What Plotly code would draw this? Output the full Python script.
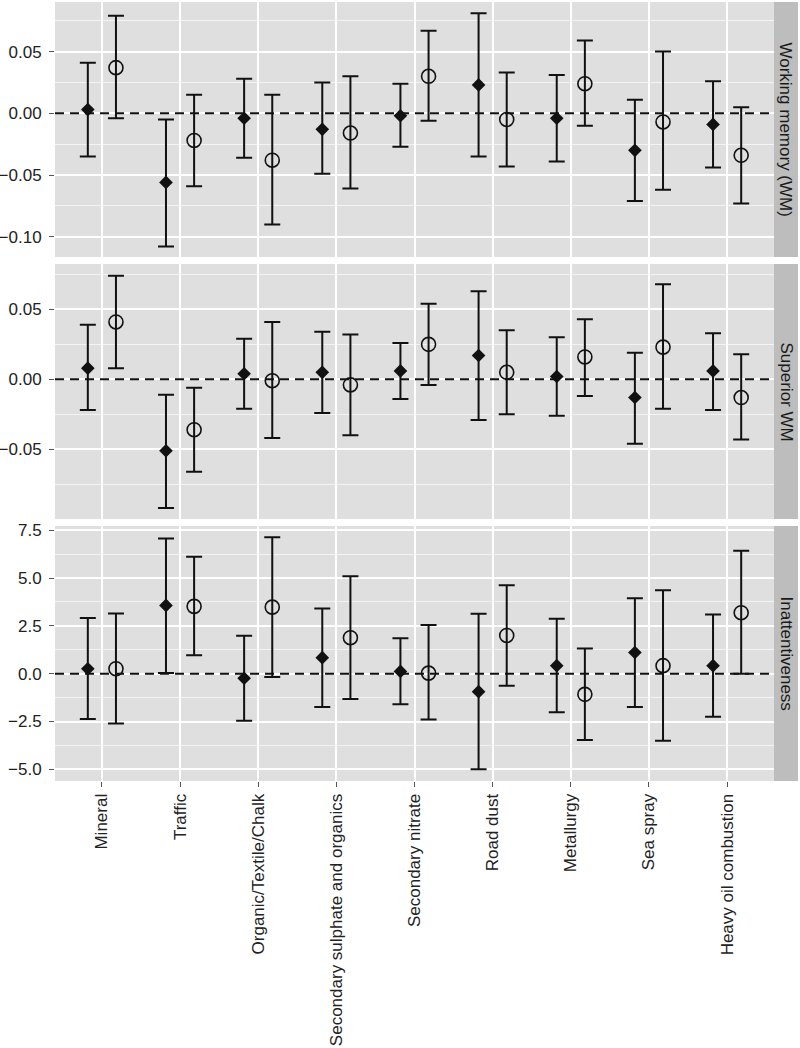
import numpy as np
import plotly.graph_objects as go
from plotly.subplots import make_subplots

categories = ["Mineral", "Traffic", "Organic/Textile/Chalk", "Secondary sulphate and organics",
              "Secondary nitrate", "Road dust", "Metallurgy", "Sea spray", "Heavy oil combustion"]

panel_titles = ["Working memory (WM)", "Superior WM", "Inattentiveness"]

# Working memory (WM)
wm_a_est = [0.003, -0.056, -0.004, -0.013, -0.002, 0.023, -0.004, -0.030, -0.009]
wm_a_lo = [-0.035, -0.108, -0.036, -0.049, -0.027, -0.035, -0.039, -0.071, -0.044]
wm_a_hi = [0.041, -0.005, 0.028, 0.025, 0.024, 0.081, 0.031, 0.011, 0.026]
wm_b_est = [0.037, -0.022, -0.038, -0.016, 0.030, -0.005, 0.024, -0.007, -0.034]
wm_b_lo = [-0.004, -0.059, -0.090, -0.061, -0.006, -0.043, -0.010, -0.062, -0.073]
wm_b_hi = [0.079, 0.015, 0.015, 0.030, 0.067, 0.033, 0.059, 0.050, 0.005]

# Superior WM
sw_a_est = [0.008, -0.051, 0.004, 0.005, 0.006, 0.017, 0.002, -0.013, 0.006]
sw_a_lo = [-0.022, -0.092, -0.021, -0.024, -0.014, -0.029, -0.026, -0.046, -0.022]
sw_a_hi = [0.039, -0.011, 0.029, 0.034, 0.026, 0.063, 0.030, 0.019, 0.033]
sw_b_est = [0.041, -0.036, -0.001, -0.004, 0.025, 0.005, 0.016, 0.023, -0.013]
sw_b_lo = [0.008, -0.066, -0.042, -0.040, -0.004, -0.025, -0.012, -0.021, -0.043]
sw_b_hi = [0.074, -0.006, 0.041, 0.032, 0.054, 0.035, 0.043, 0.068, 0.018]

# Inattentiveness
in_a_est = [0.26, 3.57, -0.24, 0.84, 0.12, -0.94, 0.42, 1.11, 0.42]
in_a_lo = [-2.37, 0.03, -2.46, -1.74, -1.60, -5.00, -2.02, -1.74, -2.25]
in_a_hi = [2.91, 7.07, 1.99, 3.41, 1.85, 3.14, 2.87, 3.95, 3.10]
in_b_est = [0.26, 3.52, 3.48, 1.88, 0.03, 2.00, -1.08, 0.42, 3.19]
in_b_lo = [-2.60, 0.96, -0.17, -1.32, -2.39, -0.63, -3.47, -3.50, 0.00]
in_b_hi = [3.15, 6.11, 7.13, 5.10, 2.54, 4.63, 1.32, 4.36, 6.43]

y_ranges = [[-0.1164, 0.0902], [-0.0998, 0.0824], [-5.61, 7.72]]
y_dticks = [0.05, 0.05, 2.5]
y_formats = [".2f", ".2f", ".1f"]

panels = [
    (wm_a_est, wm_a_lo, wm_a_hi, wm_b_est, wm_b_lo, wm_b_hi),
    (sw_a_est, sw_a_lo, sw_a_hi, sw_b_est, sw_b_lo, sw_b_hi),
    (in_a_est, in_a_lo, in_a_hi, in_b_est, in_b_lo, in_b_hi),
]

FONT = "Arial, Liberation Sans, sans-serif"
PANEL_BG = "#DFDFDF"
STRIP_BG = "#BDBDBD"

fig = make_subplots(rows=3, cols=1, shared_xaxes=True, vertical_spacing=0.009)

for r, (ae, al, ah, be, bl, bh) in enumerate(panels, start=1):
    ae, al, ah = np.array(ae), np.array(al), np.array(ah)
    be, bl, bh = np.array(be), np.array(bl), np.array(bh)
    fig.add_trace(go.Scatter(
        x=categories, y=ae, mode="markers", name="Series A", offsetgroup="a",
        showlegend=False,
        marker=dict(symbol="diamond", size=10.5, color="#111111", line=dict(width=0)),
        error_y=dict(type="data", symmetric=False, array=ah - ae, arrayminus=ae - al,
                     color="#111111", thickness=2, width=8),
    ), row=r, col=1)
    fig.add_trace(go.Scatter(
        x=categories, y=be, mode="markers", name="Series B", offsetgroup="b",
        showlegend=False,
        marker=dict(symbol="circle-open", size=14, color="#111111", line=dict(width=1.6, color="#111111")),
        error_y=dict(type="data", symmetric=False, array=bh - be, arrayminus=be - bl,
                     color="#111111", thickness=2, width=8),
    ), row=r, col=1)

domains = [[0.6727, 1.0], [0.3363, 0.6637], [0.0, 0.3273]]

for r in range(1, 4):
    fig.update_yaxes(
        row=r, col=1, domain=domains[r - 1], range=y_ranges[r - 1], dtick=y_dticks[r - 1], tick0=0,
        tickformat=y_formats[r - 1], showgrid=True, gridcolor="white", gridwidth=2,
        zeroline=False, ticks="outside", ticklen=5, tickwidth=1.2, tickcolor="#555555",
        tickfont=dict(family=FONT, size=17, color="#222222"), showline=False, automargin=False,
        ticklabelstandoff=4,
        minor=dict(dtick=y_dticks[r - 1] / 2, tick0=0, showgrid=True, gridcolor="#F3F3F3",
                   gridwidth=1, ticks=""),
    )
    fig.update_xaxes(
        row=r, col=1, type="category", categoryorder="array", categoryarray=categories,
        range=[-0.6, 8.6], showgrid=True, gridcolor="white", gridwidth=2, zeroline=False,
        showline=False, ticks="outside" if r == 3 else "", ticklen=5, tickwidth=1.2,
        tickcolor="#555555", tickangle=-90, showticklabels=(r == 3), automargin=False,
        tickfont=dict(family=FONT, size=17, color="#222222"),
    )
    fig.add_hline(y=0, row=r, col=1, line=dict(color="#111111", width=2, dash="9px,6px"))
    yname = "y" if r == 1 else f"y{r}"
    fig.add_shape(type="rect", xref="paper", yref=f"{yname} domain", x0=1.0, x1=1.0334,
                  y0=0, y1=1, fillcolor=STRIP_BG, line=dict(width=0), layer="below")
    fig.add_annotation(xref="paper", yref=f"{yname} domain", x=1.0167, y=0.5,
                       text=panel_titles[r - 1], textangle=90, showarrow=False,
                       font=dict(family=FONT, size=17, color="#1a1a1a"),
                       xanchor="center", yanchor="middle")

fig.update_layout(
    width=800, height=1048,
    margin=dict(l=55, r=26, t=2, b=267, autoexpand=False),
    paper_bgcolor="white", plot_bgcolor=PANEL_BG,
    scattermode="group", scattergap=0.28,
    font=dict(family=FONT, size=17, color="#222222"),
    showlegend=False,
)

fig.write_html("out.html", config={"displayModeBar": False},
               post_script="document.body.style.margin='0px';document.body.style.padding='0px';")
